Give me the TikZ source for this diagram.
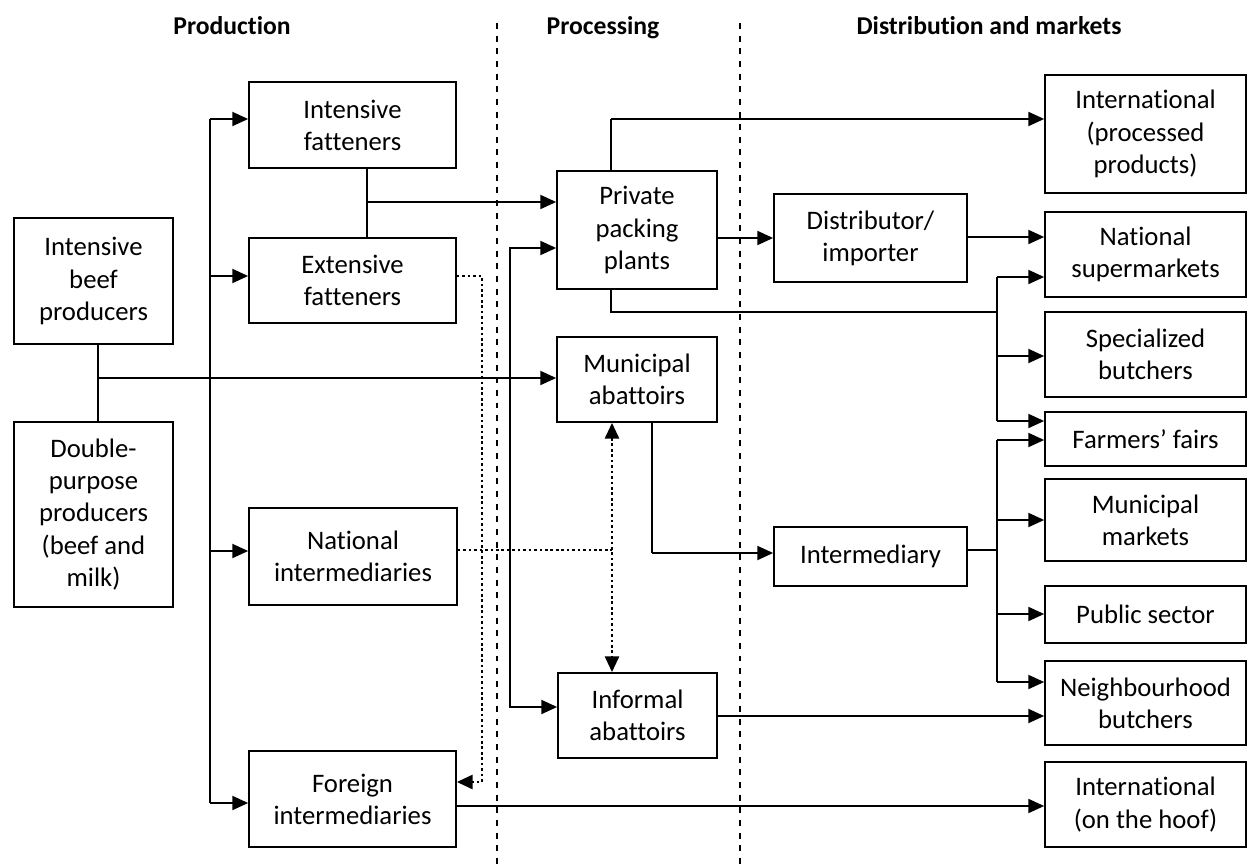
\documentclass[tikz,border=0pt]{standalone}
\usepackage{fontspec}
\setmainfont{Carlito}[Ligatures={NoCommon,NoContextual}]
\usepackage{tikz}
\usetikzlibrary{arrows.meta}
\newcommand\mainsize{\fontsize{15.2}{18.3}\selectfont}
\newcommand\headsize{\fontsize{14.6}{18}\selectfont}

\begin{document}
\begin{tikzpicture}[x=0.02cm,y=-0.02cm,
    box/.style={draw,line width=1pt,align=center,inner sep=2pt,font=\mainsize},
    head/.style={font=\headsize\bfseries,anchor=base},
    link/.style={line width=1pt},
    arr/.style={line width=1pt,-{Triangle[length=9pt,width=8pt]}},
    trunk/.style={line width=1.6pt},
    dotline/.style={line width=1.5pt,dash pattern=on 1.5pt off 1.6pt},
    divider/.style={line width=0.9pt,dash pattern=on 3.4pt off 3.8pt}]
    % page is 1248 x 865 units, y grows downwards
    \useasboundingbox (0,0) rectangle (1248,865);
    \node[head] (tprod) at (232,35) {Production};
    \node[head] (tproc) at (603,35) {Processing};
    \node[head] (tdist) at (989,35) {Distribution and markets};
    \draw[divider] (497,23) -- (497,865);
    \draw[divider] (740,23) -- (740,865);
    % production
    \node[box,minimum width=3.18cm,minimum height=2.52cm] (prod) at (93.5,281) {Intensive\\beef\\producers};
    \node[box,minimum width=3.18cm,minimum height=3.70cm] (dual) at (93.5,514.5) {Double-\\purpose\\producers\\(beef and\\milk)};
    \node[box,minimum width=4.14cm,minimum height=1.72cm] (intfat) at (352.5,125) {Intensive\\fatteners};
    \node[box,minimum width=4.14cm,minimum height=1.70cm] (extfat) at (352.5,280.5) {Extensive\\fatteners};
    \node[box,minimum width=4.16cm,minimum height=1.94cm] (natint) at (353,556.5) {National\\intermediaries};
    \node[box,minimum width=4.14cm,minimum height=1.92cm] (forint) at (352.5,799) {Foreign\\intermediaries};
    % processing
    \node[box,minimum width=3.20cm,minimum height=2.36cm] (packing) at (637,230) {Private\\packing\\plants};
    \node[box,minimum width=3.20cm,minimum height=1.70cm] (munab) at (637,379.5) {Municipal\\abattoirs};
    \node[box,minimum width=3.18cm,minimum height=1.70cm] (infab) at (637.5,715.5) {Informal\\abattoirs};
    % distribution and markets
    \node[box,minimum width=3.86cm,minimum height=1.76cm] (distrib) at (870.5,238) {Distributor/\\importer};
    \node[box,minimum width=3.86cm,minimum height=1.18cm] (interm) at (870.5,556.5) {Intermediary};
    \node[box,minimum width=4.02cm,minimum height=2.36cm] (intproc) at (1145.5,134) {International\\(processed\\products)};
    \node[box,minimum width=4.02cm,minimum height=1.70cm] (natsup) at (1145.5,254.5) {National\\supermarkets};
    \node[box,minimum width=4.02cm,minimum height=1.70cm] (specb) at (1145.5,354.5) {Specialized\\butchers};
    \node[box,minimum width=4.02cm,minimum height=1.08cm] (fairs) at (1145.5,439) {Farmers’ fairs};
    \node[box,minimum width=4.02cm,minimum height=1.64cm] (munmk) at (1145.5,520) {Municipal\\markets};
    \node[box,minimum width=4.02cm,minimum height=1.14cm] (public) at (1145.5,614.5) {Public sector};
    \node[box,minimum width=4.02cm,minimum height=1.68cm] (neighb) at (1145.5,703) {Neighbourhood\\butchers};
    \node[box,minimum width=4.02cm,minimum height=1.70cm] (inthoof) at (1145.5,804.5) {International\\(on the hoof)};

    % producers
    \coordinate (pj) at (98,378);
    \draw[trunk] (prod.south -| pj) -- (dual.north -| pj);
    \draw[arr] (pj) -- (pj -| munab.west);
    \coordinate (lt) at (210,119);
    \coordinate (lb) at (210,803);
    \draw[trunk] (lt) -- (lb);
    \draw[arr] (lt) -- (lt -| intfat.west);
    \draw[arr] (lt |- 0,276) -- (extfat.west |- 0,276);
    \draw[arr] (lt |- 0,551) -- (natint.west |- 0,551);
    \draw[arr] (lb) -- (lb -| forint.west);
    % fatteners
    \coordinate (fj) at (367,202);
    \draw[trunk] (intfat.south -| fj) -- (extfat.north -| fj);
    \draw[arr] (fj) -- (fj -| packing.west);
    \draw[dotline,-{Triangle[length=9pt,width=8pt]}] (extfat.east |- 0,276) -| (482,782) -- (forint.east |- 0,782);
    % intermediaries to abattoirs
    \coordinate (dj) at (612,550);
    \draw[dotline] (natint.east |- dj) -- (dj);
    \draw[dotline,{Triangle[length=9pt,width=8pt]}-{Triangle[length=9pt,width=8pt]}] (munab.south -| dj) -- (infab.north -| dj);
    \draw[link,{Triangle[length=9pt,width=8pt]}-{Triangle[length=9pt,width=8pt]}] (packing.west |- 0,248) -| (510,707) -- (infab.west |- 0,707);
    % packing plants
    \coordinate (pt) at (611,119);
    \draw[trunk] (packing.north -| pt) -- (pt);
    \draw[arr] (pt) -- (pt -| intproc.west);
    \draw[arr] (packing.east |- distrib.west) -- (distrib.west);
    \draw[arr] (distrib.east |- 0,237) -- (natsup.west |- 0,237);
    \coordinate (rt) at (997,277);
    \coordinate (rb) at (997,421);
    \draw[link] (packing.south -| pt) |- (997,312);
    \draw[link] (rt) -- (rb);
    \draw[arr] (rt) -- (rt -| natsup.west);
    \draw[arr] (rt |- 0,356) -- (specb.west |- 0,356);
    \draw[arr] (rb) -- (rb -| fairs.west);
    % municipal abattoirs
    \draw[trunk] (munab.south -| 652,0) -- (652,553);
    \draw[arr] (652,553) -- (interm.west |- 0,553);
    \coordinate (qt) at (997,440);
    \coordinate (qb) at (997,682);
    \draw[link] (interm.east |- 0,550) -- (997,550);
    \draw[link] (qt) -- (qb);
    \draw[arr] (qt) -- (qt -| fairs.west);
    \draw[arr] (qt |- munmk) -- (munmk.west);
    \draw[arr] (qt |- 0,614) -- (public.west |- 0,614);
    \draw[arr] (qb) -- (qb -| neighb.west);
    % informal and foreign
    \draw[arr] (infab.east |- 0,716) -- (neighb.west |- 0,716);
    \draw[arr] (forint.east |- 0,806) -- (inthoof.west |- 0,806);
\end{tikzpicture}
\end{document}
